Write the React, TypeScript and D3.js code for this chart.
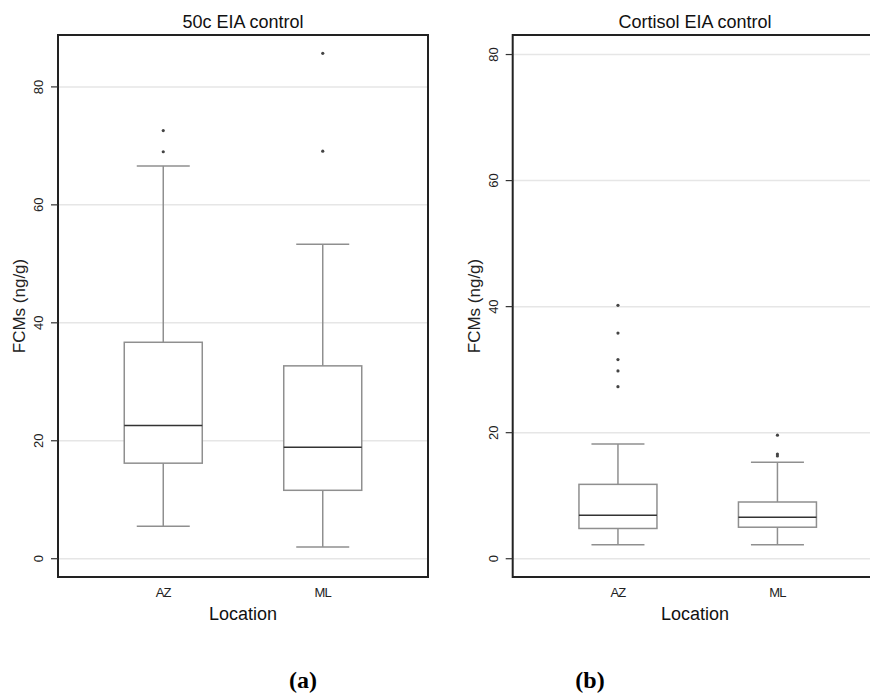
import React from 'react'
import * as d3 from 'd3'

// categories on the x axis
const categories = ['AZ', 'ML']
const yTicks = [0, 20, 40, 60, 80]

// panel (a): 50c EIA control
const lowA = [5.5, 2.0]
const q1A = [16.2, 11.6]
const medA = [22.6, 18.9]
const q3A = [36.7, 32.7]
const highA = [66.6, 53.3]
const outA = [[72.6, 69.0], [85.7, 69.1]]

// panel (b): Cortisol EIA control
const lowB = [2.2, 2.2]
const q1B = [4.8, 5.0]
const medB = [6.9, 6.6]
const q3B = [11.8, 9.0]
const highB = [18.2, 15.3]
const outB = [[40.2, 35.8, 31.6, 29.8, 27.3], [19.6, 16.6, 16.3]]

const WIDTH = 870
const HEIGHT = 694
const TOP = 35
const BOTTOM = 577
const PLOT_W = 370
const BOX_W = 78
const CAP_W = 53

const SANS = '"Liberation Sans", Arial, sans-serif'

const Panel = (props) => {
    const { left, title, yMin, yMax, low, q1, med, q3, high, out, tag, tagX, titleX } = props

    const xScale = d3.scalePoint().domain(categories).range([0, PLOT_W]).padding(0.66)
    const yScale = d3.scaleLinear().domain([yMin, yMax]).range([BOTTOM, TOP])

    const cx = titleX !== undefined ? titleX : left + PLOT_W / 2

    return (
        <g>
            {/* grid */}
            {yTicks.map(t => (
                <line key={'g' + t} x1={left} x2={left + PLOT_W} y1={yScale(t)} y2={yScale(t)}
                    stroke='#e6e6e6' strokeWidth={1.5} />
            ))}

            {/* boxes */}
            {categories.map((c, i) => {
                const x = left + xScale(c)
                return (
                    <g key={c}>
                        <line x1={x} x2={x} y1={yScale(q3[i])} y2={yScale(high[i])} stroke='#8f8f8f' strokeWidth={1.5} />
                        <line x1={x} x2={x} y1={yScale(q1[i])} y2={yScale(low[i])} stroke='#8f8f8f' strokeWidth={1.5} />
                        <line x1={x - CAP_W / 2} x2={x + CAP_W / 2} y1={yScale(high[i])} y2={yScale(high[i])} stroke='#8f8f8f' strokeWidth={1.5} />
                        <line x1={x - CAP_W / 2} x2={x + CAP_W / 2} y1={yScale(low[i])} y2={yScale(low[i])} stroke='#8f8f8f' strokeWidth={1.5} />
                        <rect x={x - BOX_W / 2} y={yScale(q3[i])} width={BOX_W} height={yScale(q1[i]) - yScale(q3[i])}
                            fill='white' stroke='#8f8f8f' strokeWidth={1.5} />
                        <line x1={x - BOX_W / 2} x2={x + BOX_W / 2} y1={yScale(med[i])} y2={yScale(med[i])} stroke='#333' strokeWidth={1.5} />
                        {out[i].map((v, j) => (
                            <circle key={j} cx={x} cy={yScale(v)} r={1.6} fill='#444' />
                        ))}
                        <text x={x} y={597} fontSize={13} fontFamily={SANS} textAnchor='middle' fill='#222'
                            letterSpacing={-0.8}>{c}</text>
                    </g>
                )
            })}

            {/* frame */}
            <rect x={left} y={TOP} width={PLOT_W} height={BOTTOM - TOP} fill='none' stroke='#222' strokeWidth={2} />

            {/* y axis */}
            {yTicks.map(t => (
                <g key={'t' + t}>
                    <line x1={left - 7} x2={left} y1={yScale(t)} y2={yScale(t)} stroke='#333' strokeWidth={1.2} />
                    <text transform={`translate(${left - 15},${yScale(t)}) rotate(-90)`} fontSize={13}
                        fontFamily={SANS} textAnchor='middle' fill='#222'>{t}</text>
                </g>
            ))}
            <text transform={`translate(${left - 33},${(TOP + BOTTOM) / 2}) rotate(-90)`} fontSize={17}
                fontFamily={SANS} textAnchor='middle' fill='#222'>FCMs (ng/g)</text>

            {/* titles */}
            <text x={cx} y={28} fontSize={18} fontFamily={SANS} textAnchor='middle' fill='#111'>{title}</text>
            <text x={cx} y={620} fontSize={18} fontFamily={SANS} textAnchor='middle' fill='#111'>Location</text>
            <text x={tagX} y={688} fontSize={24} fontWeight='bold' fontFamily='"Liberation Serif", "DejaVu Serif", serif'
                textAnchor='middle' fill='#000'>{tag}</text>
        </g>
    )
}

const App = () => {
    return (
        <svg width={WIDTH} height={HEIGHT} style={{ position: 'absolute', left: 0, top: 0, background: 'white' }}>
            <Panel left={58} title='50c EIA control' yMin={-3.1} yMax={88.8}
                low={lowA} q1={q1A} med={medA} q3={q3A} high={highA} out={outA}
                tag='(a)' tagX={303} />
            <Panel left={512.7} title='Cortisol EIA control' yMin={-2.9} yMax={83.1}
                low={lowB} q1={q1B} med={medB} q3={q3B} high={highB} out={outB}
                tag='(b)' tagX={590} titleX={695} />
        </svg>
    )
}

export default App
